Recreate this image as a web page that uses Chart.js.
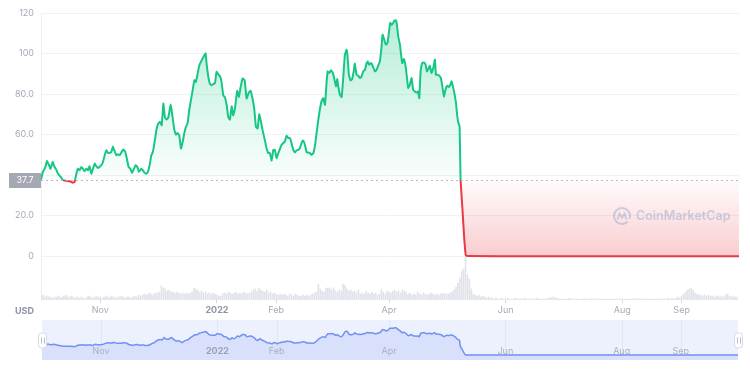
<!DOCTYPE html>
<html><head><meta charset="utf-8">
<script src="https://cdn.jsdelivr.net/npm/chart.js@4.4.0/dist/chart.umd.min.js"></script>
<style>
html,body{margin:0;padding:0;background:#fff;}
#wrap{position:relative;width:750px;height:370px;overflow:hidden;}
#main{position:absolute;left:0;top:0;}
#nav{position:absolute;left:0;top:318px;}
</style></head><body>
<div id="wrap"><canvas id="main" width="750" height="322"></canvas><canvas id="nav" width="750" height="46"></canvas></div>
<script>
// ---- data (x = days since 2021-10-01) ----
const baseline = 37.7;
const priceDays = [0,1,2.3,3.1,4.2,5,6.1,7.1,8,8.9,10.3,11.5,13.2,15,16.7,17.6,18.5,19.3,20.2,21.1,21.9,22.8,23.7,24.6,25.4,26.3,27.2,28.1,28.9,29.8,31.5,32.4,33.3,34.2,35,35.9,36.8,37.6,38.5,39.4,40.2,41.1,42,43,44.1,44.9,45.8,46.7,47.6,48.6,49.5,50.4,51.2,52.5,53.3,54.2,55.1,55.9,56.8,57.7,58.5,59.5,60.4,61.3,62.2,63.1,64,64.8,65.7,66.6,67.8,68.8,69.7,70.6,71.4,72.3,73.2,74.1,74.9,75.8,76.7,77.5,78.4,79.3,80.2,81,81.9,82.8,83.6,84.5,85.4,86.1,86.6,87.5,88.3,89.2,90.1,91,91.8,92.7,93.6,94.4,95.3,96.2,97.1,97.9,98.8,99.7,100.5,101.4,102.6,103.5,104.4,105.4,106.5,107.5,108.6,109.6,110.6,111.5,112.4,113.3,114.1,115,115.9,117,118,118.9,119.7,120.6,121.5,122.3,123.2,124.1,124.9,125.8,126.7,127.5,128.4,129.3,130.2,131,131.9,132.8,133.6,134.5,135.4,136.3,137.1,138,138.9,139.7,140.6,141.5,142.4,143.2,144.1,145,145.8,146.7,147.6,148.5,149.3,149.9,150.7,151.6,152.5,153.3,154.2,154.9,155.4,156.3,157.2,158.1,158.9,159.8,160.3,161,161.9,162.7,163.6,164.1,165,165.9,166.8,167.6,168.5,169.4,170.2,170.8,171.6,172.3,172.9,173.7,174.6,175.5,176.3,177.2,178.1,178.6,179.5,180.3,181.2,181.9,182.6,183.3,184.2,184.7,185.6,186.1,186.8,187.7,188.2,188.9,189.8,190.6,191.3,192,192.9,193.8,194.6,195.5,196.4,197.2,197.8,198.5,199.3,200.2,201.1,201.8,202.5,203.3,204.2,205.1,206,206.5,207.4,208.2,209.1,210,210.7,211.5,212.4,213.3,214,214.7,215.4,216.1,217,217.6,218.2,218.9,219.4,220.4,221.3,222.1,223,240,270,300,330,365];
const prices = [37.7,41.6,44,47,44.9,43.2,46.5,44,42.7,40.7,39.1,37.5,37.2,37.0,36.3,36.7,40.7,43.2,42.4,44,43.2,41.9,43.2,42.4,44.4,40.7,43.2,45.7,44.4,43.5,44.9,46.5,49.8,52.3,51,51,51.4,54.2,51.8,49.8,50.3,49.8,51.1,52.6,51.4,48.1,44,43.2,41.1,43.2,44.9,44,41.6,43.2,42.4,41.1,40.7,41.6,44.9,49.8,51.4,57,62.5,65.4,66.3,64.6,75.3,68.4,67.4,68.4,74.8,68.7,62.5,60,60.8,59.7,53.1,56.4,60.5,63.8,65.8,72,77,81.9,86.8,86,90.1,94.2,95.9,97.5,99.2,100,95,88.5,85.2,84.4,84.9,85.5,91,89.8,88.8,86,79.4,78.3,74.5,68.7,67.4,74,69.5,72.8,81.6,78.6,83.5,87.7,86.8,77.8,80.6,81.6,77.8,72.8,63.8,63,70,66.5,62,57.5,53,50.9,50.9,47.2,52.5,52.5,48.4,50.9,52.8,55,55.8,56.6,59.4,58.3,58.3,55.8,52.5,51.2,52.2,52.5,53.3,56.1,57.1,55,51.2,51.2,50.9,50,50.9,54.2,60.7,67.3,72.3,76.4,78,74.7,85.4,91.2,90.4,91.7,90.7,87.9,83.8,87.4,84.1,79.7,78.5,88.7,99.4,101.9,98.6,89.5,86.7,87.4,91.7,95,89.5,89.1,87.9,88.7,91.2,92,95,96.1,94.5,95.3,95,93.3,91.2,92,94,96.1,103.5,109.3,106.8,104.4,105.2,110.1,115.1,114.2,115.1,116.2,116.4,114.2,108.5,104.4,100.2,95.3,97.3,94,88.7,83,84.6,87.9,82.1,81.3,80.8,81.3,78,91.2,95.3,95.6,94.5,91.2,92.3,94,90.4,92.8,97,89.5,89.5,89.1,87.9,83,78.8,82.1,84.1,83.5,84.6,86.3,83.8,80.8,75.6,69.8,66,64,37.7,23,9,0.6,0.05,0,0,0,0,0];
// daily trading volume (relative units), one value per day from 2021-10-01
const volOct = [4,5,3,4,3,3,2,3,3,4,3,3,4,5,3,3,4,3,2,3,2,3,2,1,3,4,3,2,3,4,3];
const volNov = [3,2,3,4,3,3,4,3,2,3,3,4,3,2,3,3,2,3,4,3,5,4,5,6,5,6,7,5,6,7];
const volDec = [7,8,14,12,11,9,10,8,8,7,8,7,6,7,6,7,6,7,8,12,11,10,8,9,7,8,6,7,6,7,6];
const volJan = [5,4,4,6,7,6,8,7,6,7,8,6,7,6,8,7,6,7,8,10,11,9,12,10,9,8,10,7,8,6,7];
const volFeb = [6,5,6,5,6,5,4,6,5,4,6,5,4,4,5,4,5,4,5,6,7,8,16,11,9,8,12,12];
const volMar = [12,10,12,9,8,10,9,16,15,11,9,10,8,9,7,10,6,7,6,9,7,6,8,6,7,5,6,11,8,6,9];
const volApr = [8,7,9,10,8,9,7,10,9,8,6,7,5,6,5,8,6,5,7,6,5,6,7,6,5,6,5,6,7,6];
const volMay = [6,6,7,8,10,13,17,22,29,31,43,25,21,11,6,5,4,5,3,4,3,2,3,2,2,1,2,1,1,2,1];
const volJun = [1,2,1,1,1,2,1,1,1,1,2,1,1,1,1,1,2,1,1,1,1,1,2,2,3,3,2,2,1,1];
const volJul = [1,1,1,1.5,1,1,1,1,1,0.5,1,1,1,1,1,1.5,1,1,1,1,1,1,0.5,1,1,1,1,1,1,1,1];
const volAug = [1,1,1,1,1,1,1.5,1,1,1,1,1,1,1,1,1,1,1,1,1,1,1,1,1,2,1,2,1,2,3,2];
const volSep = [4,6,8,10,11,12,10,7,6,5,5,4,5,4,5,4,4,3,4,4,3,4,3,5,6,4,3,4,3,3];
const volumes = [].concat(volOct,volNov,volDec,volJan,volFeb,volMar,volApr,volMay,volJun,volJul,volAug,volSep);
const monthTicks = [31,92,123,182,243,304,335];
const monthLabels = ['Nov','2022','Feb','Apr','Jun','Aug','Sep'];
const priceTicks = [0,20,40,60,80,100,120];
const priceTickLabels = ['0','20.0','','60.0','80.0','100','120'];

Chart.defaults.font.family = 'Inter, "Noto Sans", sans-serif';

const priceData = priceDays.map((d,i)=>({x:d,y:prices[i]}));
const volData = volumes.map((v,i)=>({x:i,y:v}));

const overlay = {
  id:'overlay',
  afterDatasetsDraw(chart){
    const c = chart.ctx, a = chart.chartArea, ys = chart.scales.y;
    const by = Math.round(ys.getPixelForValue(baseline)) + 0.5;
    c.save();
    c.strokeStyle = '#b7bcc6'; c.lineWidth = 1; c.setLineDash([2,3]);
    c.beginPath(); c.moveTo(a.left, by); c.lineTo(a.right, by); c.stroke();
    c.restore();
    // watermark
    c.save();
    const cx = 622, cy = 216;
    c.strokeStyle = 'rgba(150,170,205,0.5)'; c.lineWidth = 2;
    c.beginPath(); c.arc(cx, cy, 8, 0.25*Math.PI, 2.1*Math.PI); c.stroke();
    c.lineWidth = 1.8;
    c.beginPath(); c.moveTo(cx-4.5, cy+3.5); c.lineTo(cx-2.5, cy-2.5); c.lineTo(cx, cy+2); c.lineTo(cx+2.5, cy-2.5); c.lineTo(cx+4.5, cy+3.5); c.stroke();
    c.fillStyle = 'rgba(150,170,205,0.5)';
    c.font = '600 12.5px Inter, "Noto Sans", sans-serif';
    c.textBaseline = 'middle'; c.textAlign = 'left';
    c.fillText('CoinMarketCap', 636, cy+0.5);
    c.restore();
  },
  afterDraw(chart){
    const c = chart.ctx, ys = chart.scales.y;
    const by = ys.getPixelForValue(baseline);
    c.save();
    c.fillStyle = '#a3a8b2';
    c.fillRect(9, Math.round(by) - 7, 32, 15);
    c.fillStyle = '#ffffff';
    c.font = '9px Inter, "Noto Sans", sans-serif';
    c.textAlign = 'center'; c.textBaseline = 'middle';
    c.fillText(baseline.toFixed(1), 25, Math.round(by) + 0.5);
    c.fillStyle = '#8c94a5';
    c.font = 'bold 9px Inter, "Noto Sans", sans-serif';
    c.textAlign = 'right';
    c.fillText('USD', 34, 311);
    c.restore();
  }
};

const main = new Chart(document.getElementById('main').getContext('2d'), {
  type:'line',
  data:{datasets:[
    {type:'line', data:priceData, xAxisID:'x', yAxisID:'y', borderColor:'#16c784', borderWidth:2,
     pointRadius:0, tension:0.1, borderJoinStyle:'round', order:1,
     fill:{target:{value:baseline}, above:'rgba(22,199,132,0.15)', below:'rgba(234,57,67,0.15)'}},
    {type:'bar', data:volData, xAxisID:'x', yAxisID:'yv', backgroundColor:'#e0e3ea', barThickness:1, order:2}
  ]},
  options:{
    responsive:false, animation:false, devicePixelRatio:1, events:[],
    layout:{padding:{top:13,right:11,left:0,bottom:0}},
    plugins:{legend:{display:false}, tooltip:{enabled:false}},
    scales:{
      x:{type:'linear', min:0, max:365, offset:false,
         afterBuildTicks:s=>{s.ticks = monthTicks.map(v=>({value:v}));},
         afterFit:s=>{s.height = 22;},
         grid:{offset:false, drawOnChartArea:false, drawTicks:true, tickLength:3, color:'#d3d7de'},
         border:{display:false},
         ticks:{padding:2, autoSkip:false, maxRotation:0,
           callback:(v,i)=>monthLabels[i],
           color:ctx=> ctx.index===1 ? '#8d94a3' : '#a3aab8',
           font:ctx=> ctx.index===1 ? {size:9, weight:'bold'} : {size:9}}},
      y:{position:'left', min:-21.6, max:120,
         afterBuildTicks:s=>{s.ticks = priceTicks.map(v=>({value:v}));},
         afterFit:s=>{s.width = 41;},
         grid:{color:'#f0f2f5', drawTicks:false},
         border:{display:true, color:'#eceff3'},
         ticks:{padding:7, color:'#a3aab8', font:{size:9},
           callback:v=>priceTickLabels[priceTicks.indexOf(v)]}},
      yv:{display:false, min:0, max:287}
    }
  },
  plugins:[overlay]
});

(function(){
  const a = main.chartArea, ys = main.scales.y, c = main.ctx;
  const base = ys.getPixelForValue(baseline);
  const f = (base - a.top) / (a.bottom - a.top);
  const lg = c.createLinearGradient(0, a.top, 0, a.bottom);
  lg.addColorStop(0,'#16c784'); lg.addColorStop(f,'#16c784');
  lg.addColorStop(Math.min(1,f+0.0001),'#ea3943'); lg.addColorStop(1,'#ea3943');
  const ga = c.createLinearGradient(0, a.top, 0, base);
  ga.addColorStop(0,'rgba(22,199,132,0.32)'); ga.addColorStop(1,'rgba(22,199,132,0.02)');
  const gb = c.createLinearGradient(0, base, 0, ys.getPixelForValue(0));
  gb.addColorStop(0,'rgba(234,57,67,0.02)'); gb.addColorStop(1,'rgba(234,57,67,0.25)');
  const ds = main.data.datasets[0];
  ds.borderColor = lg;
  ds.fill = {target:{value:baseline}, above:ga, below:gb};
  main.update('none');
})();

const navPlugin = {
  id:'navdeco',
  beforeDatasetsDraw(chart){
    const c = chart.ctx, a = chart.chartArea, xs = chart.scales.x;
    c.save();
    c.fillStyle = '#edf1fd';
    c.fillRect(a.left, a.top, a.right - a.left, a.bottom - a.top);
    c.strokeStyle = '#dfe5f6'; c.lineWidth = 1;
    monthTicks.forEach(v=>{
      const px = Math.round(xs.getPixelForValue(v)) + 0.5;
      c.beginPath(); c.moveTo(px, a.top); c.lineTo(px, a.bottom); c.stroke();
    });
    c.restore();
  },
  afterDatasetsDraw(chart){
    const c = chart.ctx, a = chart.chartArea, xs = chart.scales.x;
    c.save();
    c.textAlign = 'center'; c.textBaseline = 'middle';
    monthTicks.forEach((v,i)=>{
      c.font = (i===1 ? 'bold ' : '') + '9px Inter, "Noto Sans", sans-serif';
      c.fillStyle = i===1 ? '#9aa3b6' : '#a8b0c2';
      c.fillText(monthLabels[i], xs.getPixelForValue(v), 33.5);
    });
    [a.left, a.right].forEach(hx=>{
      const w = 8, h = 15, x0 = hx - w/2, y0 = 22 - h/2;
      c.fillStyle = '#ffffff'; c.strokeStyle = '#d5dae3'; c.lineWidth = 1;
      c.beginPath();
      if (c.roundRect) c.roundRect(x0+0.5, y0+0.5, w, h, 3); else c.rect(x0+0.5, y0+0.5, w, h);
      c.fill(); c.stroke();
      c.strokeStyle = '#b4bac6';
      c.beginPath();
      c.moveTo(hx-0.5, y0+5); c.lineTo(hx-0.5, y0+h-4);
      c.moveTo(hx+2.5, y0+5); c.lineTo(hx+2.5, y0+h-4);
      c.stroke();
    });
    c.restore();
  }
};

new Chart(document.getElementById('nav').getContext('2d'), {
  type:'line',
  data:{datasets:[{data:priceData, borderColor:'#7090f2', borderWidth:1.5, pointRadius:0, tension:0.1,
    fill:'start', backgroundColor:'#d8e0fb'}]},
  options:{
    responsive:false, animation:false, devicePixelRatio:1, events:[],
    layout:{padding:{left:42,right:12,top:2,bottom:4}},
    plugins:{legend:{display:false}, tooltip:{enabled:false}},
    scales:{x:{type:'linear', display:false, min:0, max:365}, y:{display:false, min:-21.5, max:150}}
  },
  plugins:[navPlugin]
});
</script>
</body></html>
